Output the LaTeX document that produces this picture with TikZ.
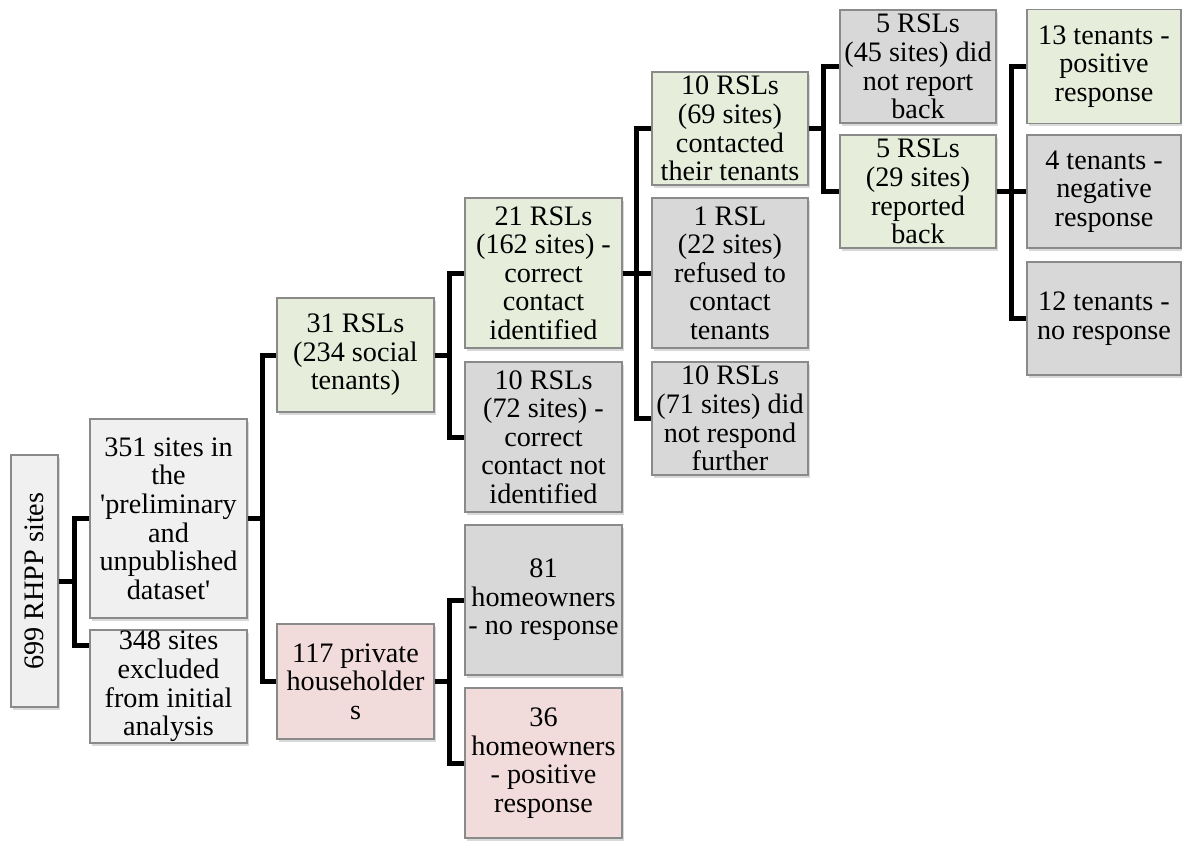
\documentclass[tikz,border=0pt]{standalone}
\usepackage{fontspec}
\setmainfont{Liberation Serif}
\usepackage{graphicx}
\usepackage{tikz}
\usetikzlibrary{shadows}
\usepackage{xcolor}
\definecolor{keep}{HTML}{E6EDDB}
\definecolor{drop}{HTML}{D8D8D8}
\definecolor{plain}{HTML}{F0F0F0}
\definecolor{owner}{HTML}{F2DCDB}
\definecolor{edge}{HTML}{8A8A8A}

\tikzset{
  box/.style={draw=edge, line width=1.2pt, align=center, inner sep=1pt,
    font=\fontsize{28.2}{28.6}\selectfont,
    drop shadow={opacity=0.3, shadow xshift=1.5pt, shadow yshift=-2.5pt}},
  link/.style={line width=5pt, line join=miter}
}

\begin{document}
\begin{tikzpicture}[x=1pt, y=-1pt]
  \useasboundingbox (0,0) rectangle (1182,841);

  % root and first split
  \node[box, fill=plain, minimum width=47pt, minimum height=252pt] (n699) at (34.5,581) {\rotatebox{90}{699 RHPP sites}};
  \node[box, fill=plain, minimum width=157pt, minimum height=199pt] (n351) at (168.5,518.5) {351 sites in\\the\\\textquotesingle preliminary\\and\\unpublished\\dataset\textquotesingle};
  \node[box, fill=plain, minimum width=157pt, minimum height=113pt] (n348) at (168.5,686.5) {348 sites\\excluded\\from initial\\analysis};

  % social and private
  \node[box, fill=keep, minimum width=157pt, minimum height=114pt] (rsl31) at (355.5,355) {31 RSLs\\(234 social\\tenants)};
  \node[box, fill=owner, minimum width=157pt, minimum height=115pt] (priv117) at (355.5,681.5) {117 private\\householder\\s};

  \node[box, fill=keep, minimum width=157pt, minimum height=150pt] (rsl21) at (543.5,273) {21 RSLs\\(162 sites) -\\correct\\contact\\identified};
  \node[box, fill=drop, minimum width=157pt, minimum height=150pt] (rsl10) at (543.5,437) {10 RSLs\\(72 sites) -\\correct\\contact not\\identified};
  \node[box, fill=drop, minimum width=157pt, minimum height=150pt] (home81) at (543.5,600) {81\\homeowners\\- no response};
  \node[box, fill=owner, minimum width=157pt, minimum height=150pt] (home36) at (543.5,763) {36\\homeowners\\- positive\\response};

  \node[box, fill=keep, minimum width=156pt, minimum height=113pt] (ten69) at (730,128.5) {10 RSLs\\(69 sites)\\contacted\\their tenants};
  \node[box, fill=drop, minimum width=156pt, minimum height=150pt] (ref22) at (730,273) {1 RSL\\(22 sites)\\refused to\\contact\\tenants};
  \node[box, fill=drop, minimum width=156pt, minimum height=113pt] (nor71) at (730,418.5) {10 RSLs\\(71 sites) did\\not respond\\further};

  \node[box, fill=drop, minimum width=156pt, minimum height=113pt] (rep45) at (918,66.5) {5 RSLs\\(45 sites) did\\not report\\back};
  \node[box, fill=keep, minimum width=156pt, minimum height=113pt] (rep29) at (918,191.5) {5 RSLs\\(29 sites)\\reported\\back};

  \node[box, fill=keep, minimum width=154pt, minimum height=114pt] (pos13) at (1104,66.5) {13 tenants -\\positive\\response};
  \node[box, fill=drop, minimum width=154pt, minimum height=113pt] (neg4) at (1104,191.5) {4 tenants -\\negative\\response};
  \node[box, fill=drop, minimum width=154pt, minimum height=113pt] (non12) at (1104,318.5) {12 tenants -\\no response};

  % connectors
  \draw[link] (n699.east) -- ++(16,0) |- (n351.west);
  \draw[link] (n699.east) -- ++(16,0) |- ([yshift=41.5pt]n348.west);
  \draw[link] (n351.east) -- ++(15,0) |- (rsl31.west);
  \draw[link] (n351.east) -- ++(15,0) |- (priv117.west);
  \draw[link] (rsl31.east) -- ++(15,0) |- (rsl21.west);
  \draw[link] (rsl31.east) -- ++(15,0) |- (rsl10.west);
  \draw[link] (priv117.east) -- ++(15,0) |- (home81.west);
  \draw[link] (priv117.east) -- ++(15,0) |- (home36.west);
  \draw[link] (rsl21.east) -- ++(14,0) |- (ten69.west);
  \draw[link] (rsl21.east) -- ++(14,0) |- (ref22.west);
  \draw[link] (rsl21.east) -- ++(14,0) |- (nor71.west);
  \draw[link] (ten69.east) -- ++(15,0) |- (rep45.west);
  \draw[link] (ten69.east) -- ++(15,0) |- (rep29.west);
  \draw[link] (rep29.east) -- ++(15,0) |- (pos13.west);
  \draw[link] (rep29.east) -- ++(15,0) |- (neg4.west);
  \draw[link] (rep29.east) -- ++(15,0) |- (non12.west);
\end{tikzpicture}
\end{document}
